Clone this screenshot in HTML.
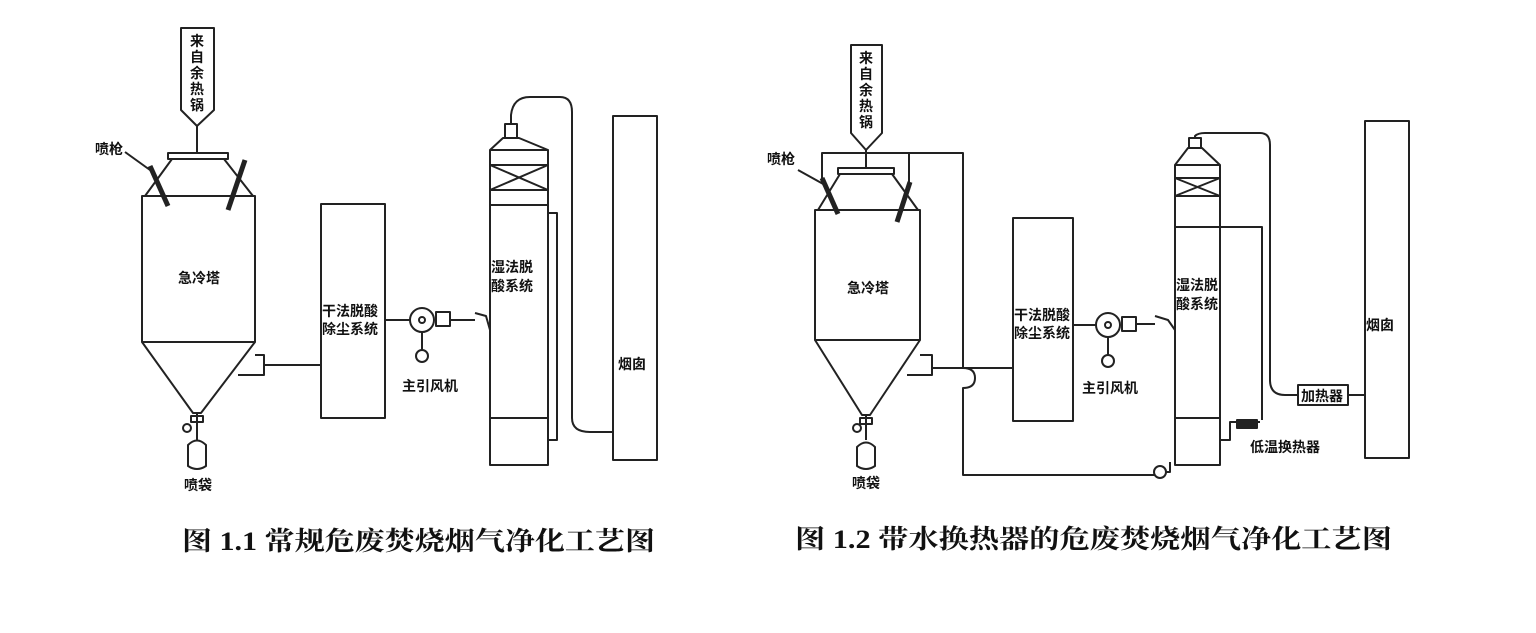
<!DOCTYPE html>
<html><head><meta charset="utf-8"><style>
html,body{margin:0;padding:0;background:#fff;}
svg{display:block;}
text{font-family:"Liberation Serif","Noto Serif CJK SC","Noto Sans CJK SC",serif;fill:#111;}
.s{font-family:"Liberation Sans","Noto Sans CJK SC",sans-serif;font-weight:bold;font-size:14px;}
</style></head><body>
<svg width="1536" height="633" viewBox="0 0 1536 633" xmlns="http://www.w3.org/2000/svg">
<g fill="none" stroke="#222" stroke-width="2" stroke-linejoin="round">
<!-- ===== LEFT DIAGRAM ===== -->
<path d="M181,28 H214 V110 L197,126 L181,110 Z"/>
<line x1="197" y1="126" x2="197" y2="153"/>
<rect x="168" y="153" width="60" height="6"/>
<path d="M172,159 L145,196 M224,159 L253,196"/>
<rect x="142" y="196" width="113" height="146"/>
<path d="M142,342 L193,413 H201 L255,342"/>
<path d="M255,355 H264 V375 H238"/>
<line x1="264" y1="365" x2="320" y2="365"/>
<line x1="150" y1="166" x2="168" y2="206" stroke-width="5"/>
<line x1="245" y1="160" x2="228" y2="210" stroke-width="5"/>
<line x1="125" y1="152" x2="150" y2="170"/>
<path d="M197,413 V440"/>
<rect x="191" y="416" width="12" height="6"/>
<circle cx="187" cy="428" r="4"/>
<path d="M188,445 Q197,436 206,445 V466 Q197,472 188,466 Z"/>
<rect x="321" y="204" width="64" height="214"/>
<line x1="385" y1="320" x2="410" y2="320"/>
<circle cx="422" cy="320" r="12"/>
<circle cx="422" cy="320" r="3"/>
<rect x="436" y="312" width="14" height="14"/>
<line x1="450" y1="320" x2="475" y2="320"/>
<path d="M475,313 L486,316 L490,330"/>
<line x1="422" y1="332" x2="422" y2="350"/>
<circle cx="422" cy="356" r="6"/>
<rect x="490" y="150" width="58" height="315"/>
<path d="M490,150 L505,137 H517 L548,150" stroke="none"/>
<path d="M490,150 L503,138 H519 L548,150"/>
<rect x="505" y="124" width="12" height="14"/>
<path d="M490,165 H548 M490,190 H548 M490,165 L548,190 M548,165 L490,190 M490,205 H548"/>
<path d="M511,124 V115 Q513,97 530,97 H560 Q572,97 572,112 V418 Q572,432 590,432 H612"/>
<path d="M548,213 H557 V440 H548"/>
<line x1="490" y1="418" x2="548" y2="418"/>
<rect x="613" y="116" width="44" height="344"/>
<!-- ===== RIGHT DIAGRAM ===== -->
<path d="M851,45 H882 V133 L866,150 L851,133 Z"/>
<line x1="866" y1="150" x2="866" y2="168"/>
<path d="M822,183 V153 H963 V368 Q975,368 975,378 Q975,388 963,388 V475 H1155"/>
<path d="M909,153 V185"/>
<rect x="838" y="168" width="56" height="6"/>
<path d="M840,174 L818,210 M892,174 L918,210"/>
<rect x="815" y="210" width="105" height="130"/>
<path d="M815,340 L862,415 H870 L920,340"/>
<path d="M920,355 H932 V375 H907"/>
<line x1="932" y1="368" x2="1013" y2="368"/>
<line x1="822" y1="178" x2="838" y2="214" stroke-width="5"/>
<line x1="910" y1="182" x2="897" y2="222" stroke-width="5"/>
<line x1="798" y1="170" x2="825" y2="185"/>
<path d="M866,415 V440"/>
<rect x="860" y="418" width="12" height="6"/>
<circle cx="857" cy="428" r="4"/>
<path d="M857,447 Q866,438 875,447 V466 Q866,472 857,466 Z"/>
<rect x="1013" y="218" width="60" height="203"/>
<line x1="1073" y1="325" x2="1096" y2="325"/>
<circle cx="1108" cy="325" r="12"/>
<circle cx="1108" cy="325" r="3"/>
<rect x="1122" y="317" width="14" height="14"/>
<line x1="1136" y1="324" x2="1155" y2="324"/>
<path d="M1155,316 L1168,320 L1175,330"/>
<line x1="1108" y1="337" x2="1108" y2="355"/>
<circle cx="1108" cy="361" r="6"/>
<circle cx="1160" cy="472" r="6"/>
<path d="M1166,472 H1170 V462"/>
<rect x="1175" y="165" width="45" height="300"/>
<path d="M1175,165 L1188,148 H1202 L1220,165"/>
<rect x="1189" y="138" width="12" height="10"/>
<path d="M1175,178 H1220 M1175,196 H1220 M1175,178 L1220,196 M1220,178 L1175,196"/>
<path d="M1195,138 V136 Q1198,133 1205,133 H1260 Q1270,133 1270,145 V380 Q1270,395 1285,395 H1298"/>
<rect x="1298" y="385" width="50" height="20"/>
<line x1="1348" y1="395" x2="1365" y2="395"/>
<path d="M1175,227 H1262 V420"/>
<line x1="1175" y1="418" x2="1220" y2="418"/>
<path d="M1220,440 H1230 V422 H1260"/>
<rect x="1237" y="420" width="20" height="8" fill="#222"/>
<rect x="1365" y="121" width="44" height="337"/>
</g>
<!-- Labels -->
<g class="s" font-size="14">
<text class="s" x="197" y="46" text-anchor="middle">来</text>
<text class="s" x="197" y="62" text-anchor="middle">自</text>
<text class="s" x="197" y="78" text-anchor="middle">余</text>
<text class="s" x="197" y="94" text-anchor="middle">热</text>
<text class="s" x="197" y="110" text-anchor="middle">锅</text>
<text class="s" x="95" y="154">喷枪</text>
<text class="s" x="178" y="283">急冷塔</text>
<text class="s" x="322" y="316">干法脱酸</text>
<text class="s" x="322" y="334">除尘系统</text>
<text class="s" x="402" y="391">主引风机</text>
<text class="s" x="491" y="272">湿法脱</text>
<text class="s" x="491" y="291">酸系统</text>
<text class="s" x="618" y="369">烟囱</text>
<text class="s" x="184" y="490">喷袋</text>
<text class="s" x="866" y="63" text-anchor="middle">来</text>
<text class="s" x="866" y="79" text-anchor="middle">自</text>
<text class="s" x="866" y="95" text-anchor="middle">余</text>
<text class="s" x="866" y="111" text-anchor="middle">热</text>
<text class="s" x="866" y="127" text-anchor="middle">锅</text>
<text class="s" x="767" y="164">喷枪</text>
<text class="s" x="847" y="293">急冷塔</text>
<text class="s" x="1014" y="320">干法脱酸</text>
<text class="s" x="1014" y="338">除尘系统</text>
<text class="s" x="1082" y="393">主引风机</text>
<text class="s" x="1176" y="290">湿法脱</text>
<text class="s" x="1176" y="309">酸系统</text>
<text class="s" x="1366" y="330">烟囱</text>
<text class="s" x="1301" y="401" font-size="12">加热器</text>
<text class="s" x="1250" y="452">低温换热器</text>
<text class="s" x="852" y="488">喷袋</text>
</g>
<text x="182" y="550" font-size="26" font-weight="bold" textLength="473" lengthAdjust="spacingAndGlyphs">图 1.1  常规危废焚烧烟气净化工艺图</text>
<text x="795" y="548" font-size="26" font-weight="bold" textLength="597" lengthAdjust="spacingAndGlyphs">图 1.2  带水换热器的危废焚烧烟气净化工艺图</text>
</svg>
</body></html>
